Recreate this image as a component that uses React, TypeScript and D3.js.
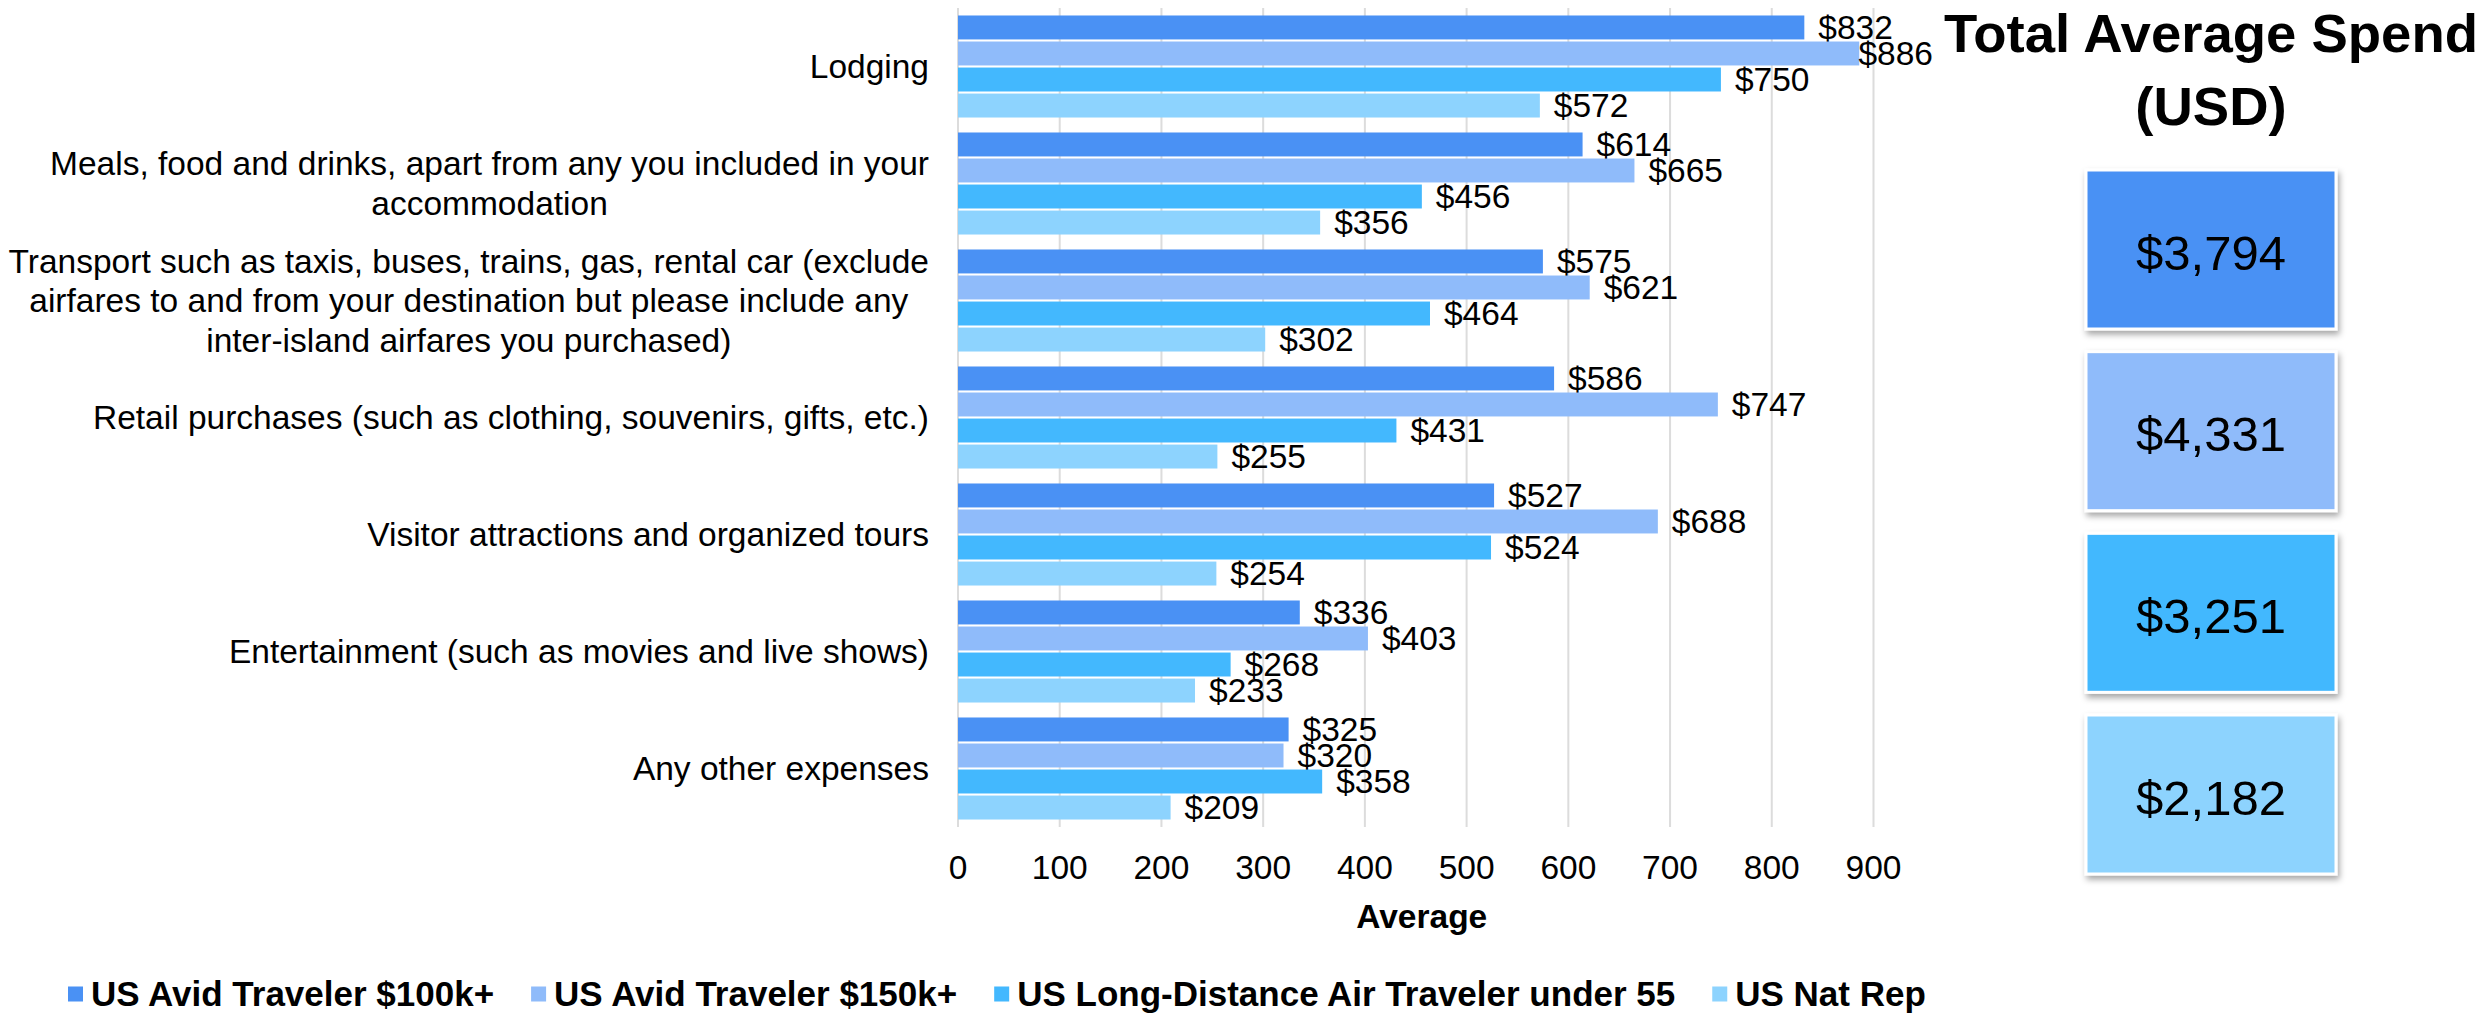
import { useEffect, useRef } from "react";
import * as d3 from "d3";

// category labels, already wrapped the way the reference wraps them
const categoryLines: string[][] = [
  ["Lodging"],
  ["Meals, food and drinks, apart from any you included in your", "accommodation"],
  [
    "Transport such as taxis, buses, trains, gas, rental car (exclude",
    "airfares to and from your destination but please include any",
    "inter-island airfares you purchased)",
  ],
  ["Retail purchases (such as clothing, souvenirs, gifts, etc.)"],
  ["Visitor attractions and organized tours"],
  ["Entertainment (such as movies and live shows)"],
  ["Any other expenses"],
];

const seriesNames = [
  "US Avid Traveler $100k+",
  "US Avid Traveler $150k+",
  "US Long-Distance Air Traveler under 55",
  "US Nat Rep",
];
const seriesColors = ["#4a91f4", "#8fbbfa", "#43b8fe", "#8dd3fe"];

const avid100k = [832, 614, 575, 586, 527, 336, 325];
const avid150k = [886, 665, 621, 747, 688, 403, 320];
const longDistance = [750, 456, 464, 431, 524, 268, 358];
const natRep = [572, 356, 302, 255, 254, 233, 209];

const totals = [3794, 4331, 3251, 2182];
const xTicks = [0, 100, 200, 300, 400, 500, 600, 700, 800, 900];

const FONT = "'Liberation Sans', Arial, Helvetica, sans-serif";

export default function App() {
  const ref = useRef<SVGSVGElement | null>(null);

  useEffect(() => {
    if (!ref.current) return;
    document.body.style.margin = "0";
    const svg = d3.select(ref.current);
    svg.selectAll("*").remove();
    svg.style("font-family", FONT);

    const values = [avid100k, avid150k, longDistance, natRep];
    const plot = { left: 958, right: 1873.5, top: 8, bottom: 827 };
    const chartRight = 1933;
    const labelRight = 929;
    const fs = 33.5;

    const x = d3.scaleLinear().domain([0, 900]).range([plot.left, plot.right]);
    const y = d3
      .scaleBand<number>()
      .domain(d3.range(categoryLines.length))
      .range([plot.top, plot.bottom])
      .paddingInner(0.128)
      .paddingOuter(0.064);
    const ySub = d3
      .scaleBand<number>()
      .domain(d3.range(values.length))
      .range([0, y.bandwidth()])
      .paddingInner(0.08);

    const defs = svg.append("defs");
    const f = defs
      .append("filter")
      .attr("id", "shadow")
      .attr("x", "-10%")
      .attr("y", "-10%")
      .attr("width", "130%")
      .attr("height", "130%");
    f.append("feDropShadow")
      .attr("dx", 2)
      .attr("dy", 4)
      .attr("stdDeviation", 3)
      .attr("flood-color", "#000")
      .attr("flood-opacity", 0.35);

    // gridlines
    svg
      .append("g")
      .selectAll("line")
      .data(xTicks)
      .join("line")
      .attr("x1", (d) => x(d))
      .attr("x2", (d) => x(d))
      .attr("y1", plot.top)
      .attr("y2", plot.bottom)
      .attr("stroke", "#dcdcdc")
      .attr("stroke-width", 2);

    // bars + value labels
    const groups = svg
      .append("g")
      .selectAll("g")
      .data(d3.range(categoryLines.length))
      .join("g")
      .attr("transform", (i) => `translate(0,${y(i)})`);

    values.forEach((arr, s) => {
      groups
        .append("rect")
        .attr("x", plot.left)
        .attr("y", ySub(s)!)
        .attr("width", (i) => x(arr[i]) - plot.left)
        .attr("height", ySub.bandwidth())
        .attr("fill", seriesColors[s]);

      groups
        .append("text")
        .attr("y", ySub(s)! + ySub.bandwidth() / 2)
        .attr("dy", "0.35em")
        .attr("font-size", fs)
        .attr("fill", "#000")
        .text((i) => `$${arr[i]}`)
        .each(function (i) {
          const t = this as SVGTextElement;
          const w = t.getComputedTextLength();
          const px = Math.min(x(arr[i]) + 14, chartRight - w);
          t.setAttribute("x", String(px));
        });
    });

    // category labels
    const lineH = 39.6;
    categoryLines.forEach((lines, i) => {
      const cy = y(i)! + y.bandwidth() / 2;
      const g = svg.append("g");
      const texts = lines.map((ln, k) =>
        g
          .append("text")
          .attr("font-size", fs)
          .attr("fill", "#000")
          .attr("text-anchor", "middle")
          .attr("y", cy + (k - (lines.length - 1) / 2) * lineH)
          .attr("dy", "0.35em")
          .text(ln)
      );
      const maxW = d3.max(texts, (t) => (t.node() as SVGTextElement).getComputedTextLength()) || 0;
      texts.forEach((t) => t.attr("x", labelRight - maxW / 2));
    });

    // x tick labels
    svg
      .append("g")
      .selectAll("text")
      .data(xTicks)
      .join("text")
      .attr("x", (d) => x(d))
      .attr("y", 879)
      .attr("text-anchor", "middle")
      .attr("font-size", fs)
      .attr("fill", "#000")
      .text((d) => String(d));

    svg
      .append("text")
      .attr("x", (plot.left + plot.right) / 2 + 6)
      .attr("y", 928)
      .attr("text-anchor", "middle")
      .attr("font-size", fs)
      .attr("font-weight", "bold")
      .text("Average");

    // legend
    let lx = 68;
    const legendY = 994;
    seriesNames.forEach((name, s) => {
      svg
        .append("rect")
        .attr("x", lx)
        .attr("y", legendY - 7.5)
        .attr("width", 15)
        .attr("height", 15)
        .attr("fill", seriesColors[s]);
      const t = svg
        .append("text")
        .attr("x", lx + 23)
        .attr("y", legendY)
        .attr("dy", "0.35em")
        .attr("font-size", 35)
        .attr("font-weight", "bold")
        .text(name);
      lx += 23 + (t.node() as SVGTextElement).getComputedTextLength() + 37;
    });

    // right panel
    const cx = 2211;
    svg
      .append("text")
      .attr("x", cx)
      .attr("y", 52)
      .attr("text-anchor", "middle")
      .attr("font-size", 54.5)
      .attr("font-weight", "bold")
      .text("Total Average Spend");
    svg
      .append("text")
      .attr("x", cx)
      .attr("y", 125)
      .attr("text-anchor", "middle")
      .attr("font-size", 54.5)
      .attr("font-weight", "bold")
      .text("(USD)");

    const boxY = d3.scaleLinear().domain([0, totals.length - 1]).range([170, 715]);
    const boxW = 250;
    const boxH = 159;
    const fmt = d3.format("$,");
    totals.forEach((v, s) => {
      svg
        .append("rect")
        .attr("x", cx - boxW / 2)
        .attr("y", boxY(s))
        .attr("width", boxW)
        .attr("height", boxH)
        .attr("fill", seriesColors[s])
        .attr("stroke", "#fff")
        .attr("stroke-width", 3)
        .attr("filter", "url(#shadow)");
      svg
        .append("text")
        .attr("x", cx)
        .attr("y", boxY(s) + boxH / 2 + 3)
        .attr("dy", "0.35em")
        .attr("text-anchor", "middle")
        .attr("font-size", 49)
        .attr("fill", "#000")
        .text(fmt(v));
    });
  }, []);

  return <svg ref={ref} width={2485} height={1015} style={{ display: "block", background: "#fff" }} />;
}
